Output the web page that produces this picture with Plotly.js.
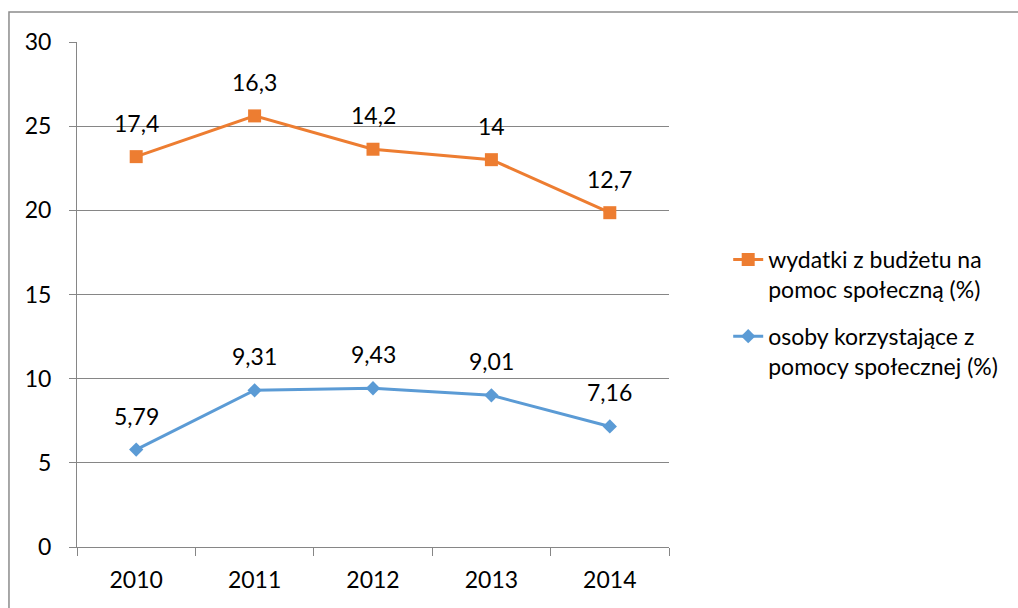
<!DOCTYPE html>
<html>
<head>
<meta charset="utf-8">
<script src="https://cdn.plot.ly/plotly-3.0.1.min.js"></script>
<style>html,body{margin:0;padding:0;background:#fff;}#chart{width:1018px;height:608px;}</style>
</head>
<body>
<div id="chart"></div>
<script>
const years = ['2010', '2011', '2012', '2013', '2014'];
const osoby = [5.79, 9.31, 9.43, 9.01, 7.16];
const wydatki = [17.4, 16.3, 14.2, 14, 12.7];
const nameWydatki = 'wydatki z budżetu na<br>pomoc społeczną (%)';
const nameOsoby = 'osoby korzystające z<br>pomocy społecznej (%)';

const fontFam = 'Lato, "Noto Sans", sans-serif';
const fs = 23;
const fmt = v => String(v).replace('.', ',');
const grid = '#868686';

// stacked line chart: the orange series is drawn on top of the blue one
const wydatkiStacked = wydatki.map((v, i) => v + osoby[i]);

const traces = [
  {
    x: years, y: wydatkiStacked, name: nameWydatki, type: 'scatter', mode: 'lines+markers',
    legendgroup: 'a',
    line: {color: '#ED7D31', width: 3},
    marker: {symbol: 'square', size: 13, color: '#ED7D31'},
    hoverinfo: 'skip'
  },
  {
    x: years, y: osoby, name: nameOsoby, type: 'scatter', mode: 'lines+markers',
    legendgroup: 'b',
    line: {color: '#5B9BD5', width: 3},
    marker: {symbol: 'diamond', size: 11, color: '#5B9BD5'},
    hoverinfo: 'skip'
  }
];

const annotations = [];
years.forEach((yr, i) => {
  annotations.push({x: i, y: osoby[i], text: fmt(osoby[i]), showarrow: false,
    yshift: 34, font: {family: fontFam, size: fs, color: '#000'}});
  annotations.push({x: i, y: wydatkiStacked[i], text: fmt(wydatki[i]), showarrow: false,
    yshift: 34, font: {family: fontFam, size: fs, color: '#000'}});
});

const layout = {
  width: 1018, height: 608,
  margin: {l: 77, r: 349, t: 42, b: 61},
  paper_bgcolor: '#fff', plot_bgcolor: '#fff',
  font: {family: fontFam, size: fs, color: '#000'},
  showlegend: true,
  legend: {
    x: 1.10, y: 0.612, xanchor: 'left', yanchor: 'top',
    valign: 'top', tracegroupgap: 14, traceorder: 'grouped',
    font: {family: fontFam, size: fs, color: '#000'},
    bgcolor: 'rgba(0,0,0,0)'
  },
  xaxis: {
    type: 'category', range: [-0.5, 4.5], tickson: 'boundaries', ticks: 'outside', ticklen: 8,
    tickcolor: grid, showline: true, linecolor: grid, linewidth: 1,
    showgrid: false, ticklabelstandoff: 12, tickangle: 0, fixedrange: true
  },
  yaxis: {
    range: [0, 30], dtick: 5, tick0: 0, ticks: 'outside', ticklen: 7,
    tickcolor: grid, showline: true, linecolor: grid, linewidth: 1,
    showgrid: true, gridcolor: grid, gridwidth: 1, zeroline: false,
    ticklabelstandoff: 13, fixedrange: true
  },
  annotations: annotations,
  shapes: [{
    type: 'rect', xref: 'paper', yref: 'paper',
    x0: -0.1149, x1: 1.7, y0: -0.3, y1: 1.0594,
    line: {color: '#8c8c8c', width: 1.5}, fillcolor: 'rgba(0,0,0,0)', layer: 'below'
  }]
};

Plotly.newPlot('chart', traces, layout, {displayModeBar: false, staticPlot: true});
</script>
</body>
</html>
